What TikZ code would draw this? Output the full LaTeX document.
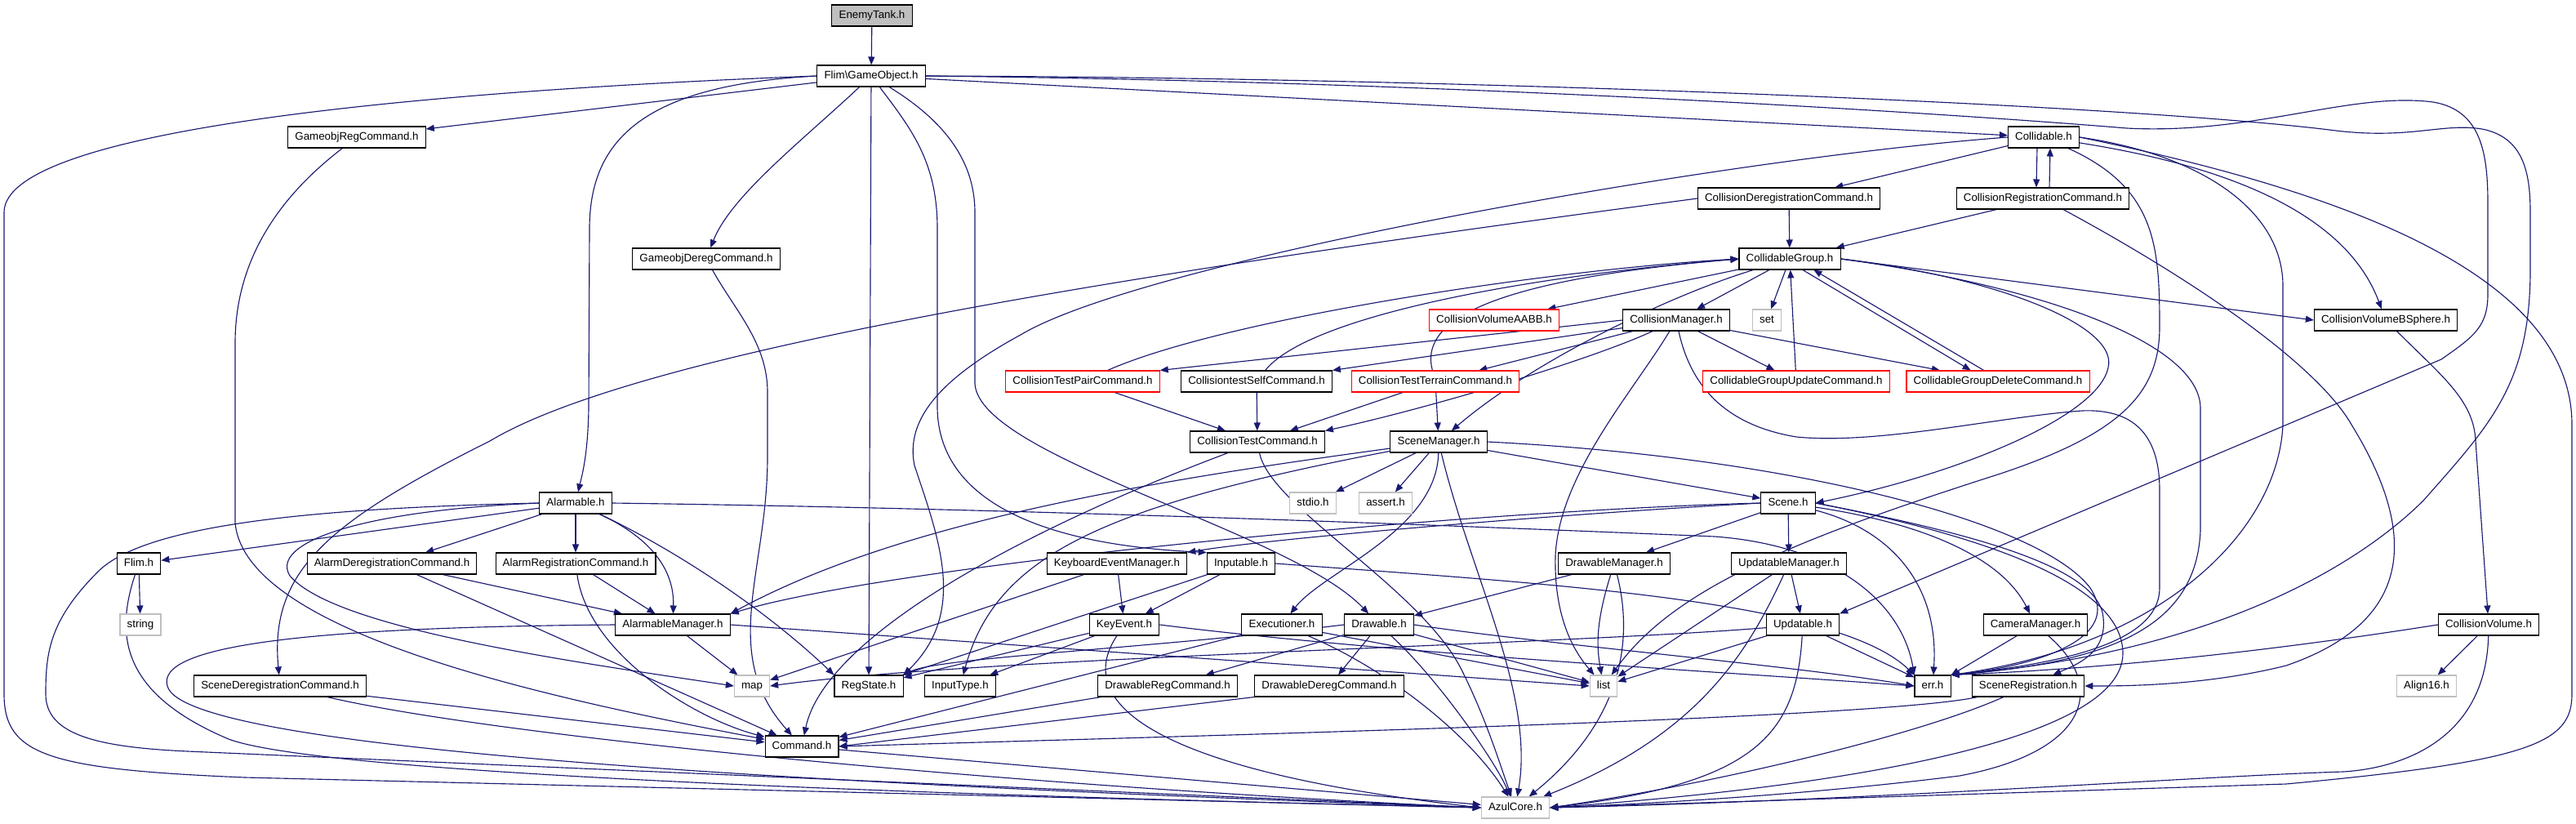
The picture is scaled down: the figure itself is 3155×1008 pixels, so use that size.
\documentclass[tikz,border=0pt]{standalone}
\usepackage{fontspec}
\setmainfont{Liberation Sans}
\usetikzlibrary{arrows.meta,backgrounds}
\definecolor{edgeblue}{RGB}{25,25,112}
\definecolor{sysgray}{RGB}{191,191,191}
\begin{document}
\begin{tikzpicture}[x=0.75pt, y=-0.75pt,
  every node/.style={font=\fontsize{10}{12}\selectfont},
  hdr/.style={draw=black, line width=0.8pt, fill=white, minimum height=19.5pt,
    inner xsep=6.5pt, inner ysep=0pt, text height=7.3pt, text depth=2pt},
  sys/.style={hdr, draw=sysgray},
  redhdr/.style={hdr, draw=red},
  edge/.style={draw=edgeblue, line width=0.85pt, -{Triangle[length=7.5pt, width=6pt]}}]
  \useasboundingbox (0,0) rectangle (3155,1008);

  \node[hdr, fill=sysgray] (enemy) at (1068,19) {EnemyTank.h};
  \node[hdr] (gameobj) at (1067,93) {Flim\textbackslash GameObject.h};
  \node[hdr] (goregcmd) at (437,168) {GameobjRegCommand.h};
  \node[hdr] (collidable) at (2503,168) {Collidable.h};
  \node[hdr] (coldereg) at (2191,243) {CollisionDeregistrationCommand.h};
  \node[hdr] (colreg) at (2502,243) {CollisionRegistrationCommand.h};
  \node[hdr] (godereg) at (865,317) {GameobjDeregCommand.h};
  \node[hdr] (cgroup) at (2192,317) {CollidableGroup.h};
  \node[redhdr] (aabb) at (1830,392) {CollisionVolumeAABB.h};
  \node[hdr] (colmgr) at (2053,392) {CollisionManager.h};
  \node[sys] (setinc) at (2164,392) {set};
  \node[hdr] (bsphere) at (2922,392) {CollisionVolumeBSphere.h};
  \node[redhdr] (testpair) at (1326,467) {CollisionTestPairCommand.h};
  \node[hdr] (testself) at (1539,467) {CollisiontestSelfCommand.h};
  \node[redhdr] (testterrain) at (1758,467) {CollisionTestTerrainCommand.h};
  \node[redhdr] (cgupdate) at (2200,467) {CollidableGroupUpdateCommand.h};
  \node[redhdr] (cgdelete) at (2447,467) {CollidableGroupDeleteCommand.h};
  \node[hdr] (testcmd) at (1540,541) {CollisionTestCommand.h};
  \node[hdr] (scenemgr) at (1762,541) {SceneManager.h};
  \node[sys] (stdioinc) at (1608,616) {stdio.h};
  \node[sys] (assertinc) at (1697,616) {assert.h};
  \node[hdr] (scene) at (2190,616) {Scene.h};
  \node[hdr] (alarmable) at (705,616) {Alarmable.h};
  \node[hdr] (flim) at (170,690) {Flim.h};
  \node[hdr] (alarmdereg) at (480,690) {AlarmDeregistrationCommand.h};
  \node[hdr] (alarmreg) at (705,690) {AlarmRegistrationCommand.h};
  \node[hdr] (keymgr) at (1368,690) {KeyboardEventManager.h};
  \node[hdr] (inputable) at (1520,690) {Inputable.h};
  \node[hdr] (drawmgr) at (1977,690) {DrawableManager.h};
  \node[hdr] (updmgr) at (2191,690) {UpdatableManager.h};
  \node[sys] (stringinc) at (172,765) {string};
  \node[hdr] (alarmmgr) at (824,765) {AlarmableManager.h};
  \node[hdr] (keyevent) at (1377,765) {KeyEvent.h};
  \node[hdr] (executioner) at (1570,765) {Executioner.h};
  \node[hdr] (drawable) at (1689,765) {Drawable.h};
  \node[hdr] (updatable) at (2208,765) {Updatable.h};
  \node[hdr] (cammgr) at (2493,765) {CameraManager.h};
  \node[hdr] (colvol) at (3048,765) {CollisionVolume.h};
  \node[hdr] (scenedereg) at (343,840) {SceneDeregistrationCommand.h};
  \node[sys] (mapinc) at (921,840) {map};
  \node[hdr] (regstate) at (1064,840) {RegState.h};
  \node[hdr] (inputtype) at (1176,840) {InputType.h};
  \node[hdr] (drawreg) at (1430,840) {DrawableRegCommand.h};
  \node[hdr] (drawdereg) at (1628,840) {DrawableDeregCommand.h};
  \node[sys] (listinc) at (1964,840) {list};
  \node[hdr] (errh) at (2367,840) {err.h};
  \node[hdr] (scenereg) at (2484,840) {SceneRegistration.h};
  \node[sys] (align) at (2972,840) {Align16.h};
  \node[hdr] (command) at (982,914) {Command.h};
  \node[sys] (azul) at (1856,989) {AzulCore.h};

  \begin{scope}[on background layer]
  \draw[edge] (enemy) -- (gameobj);
  \draw[edge] (gameobj.west) .. controls (500,112) and (5,160) .. (5,260) -- (5,850) .. controls (5,925) and (60,942) .. (300,952) -- (azul.west);
  \draw[edge] (gameobj) -- (goregcmd);
  \draw[edge] (gameobj.west) .. controls (790,104) and (722,170) .. (722,280) -- (721,500) .. controls (720,560) and (712,585) .. (alarmable);
  \draw[edge] (gameobj) .. controls (985,170) and (895,240) .. (godereg);
  \draw[edge] (gameobj) -- (regstate);
  \draw[edge] (gameobj) .. controls (1118,160) and (1148,200) .. (1148,280) -- (1148,500) .. controls (1150,620) and (1290,668) .. (inputable.north west);
  \draw[edge] (gameobj) .. controls (1160,150) and (1194,200) .. (1194,260) -- (1194,470) .. controls (1200,560) and (1580,650) .. (drawable);
  \draw[edge] (gameobj) -- (collidable);
  \draw[edge] (gameobj.east) .. controls (1800,100) and (2400,140) .. (2605,157) .. controls (2760,165) and (2880,112) .. (2980,125) .. controls (3040,135) and (3047,190) .. (3047,250) -- (3047,360) .. controls (3047,400) and (3030,412) .. (2990,440) -- (updatable.north east);
  \draw[edge] (gameobj.east) .. controls (1800,95) and (2600,128) .. (2853,159) .. controls (2950,172) and (2990,150) .. (3040,158) .. controls (3090,168) and (3099,210) .. (3099,260) -- (3099,330) .. controls (3099,470) and (3050,520) .. (2968,613) .. controls (2880,700) and (2700,800) .. (errh.north east);

  \draw[edge] (goregcmd) .. controls (330,250) and (288,330) .. (288,420) -- (288,640) .. controls (300,780) and (700,860) .. (command);
  \draw[edge] (godereg) .. controls (900,380) and (940,420) .. (940,480) -- (940,560) .. controls (940,700) and (880,800) .. (command);

  \draw[edge] (collidable) -- (coldereg);
  \draw[edge] ([xshift=-6pt]collidable.south) -- ([xshift=-6pt]colreg.north);
  \draw[edge] ([xshift=6pt]colreg.north) -- ([xshift=6pt]collidable.south);
  \draw[edge] (collidable.west) .. controls (2100,195) and (1400,320) .. (1250,410) .. controls (1140,470) and (1110,520) .. (1120,570) .. controls (1150,660) and (1185,750) .. (regstate.north east);
  \draw[edge] (collidable) .. controls (2770,210) and (2880,280) .. (bsphere);
  \draw[edge] (collidable.east) .. controls (2850,230) and (3150,330) .. (3150,520) -- (3150,850) .. controls (3150,910) and (3100,932) .. (2800,960) -- (azul.east);
  \draw[edge] (collidable) .. controls (2640,230) and (2645,300) .. (2645,400) .. controls (2645,480) and (2600,530) .. (2450,580) .. controls (2200,660) and (2050,720) .. (listinc);
  \draw[edge] (collidable.east) .. controls (2700,190) and (2796,260) .. (2796,350) -- (2796,520) .. controls (2790,650) and (2650,790) .. (errh.north east);

  \draw[edge] (coldereg) -- (cgroup);
  \draw[edge] (coldereg.west) .. controls (1500,320) and (800,420) .. (600,540) .. controls (400,640) and (330,700) .. (scenedereg);
  \draw[edge] (colreg) -- (cgroup);
  \draw[edge] (colreg) .. controls (2700,350) and (2840,450) .. (2880,520) .. controls (2960,650) and (2960,760) .. (2800,815) .. controls (2700,840) and (2600,840) .. (scenereg.east);

  \draw[edge] (cgroup) -- (aabb);
  \draw[edge] (cgroup) -- (colmgr);
  \draw[edge] (cgroup) -- (setinc);
  \draw[edge] (cgroup.east) -- (bsphere.west);
  \draw[edge] ([xshift=12pt]cgroup.south) -- ([xshift=-25pt]cgdelete.north);
  \draw[edge] ([xshift=-13pt]cgdelete.north) -- ([xshift=22pt]cgroup.south);
  \draw[edge] (cgroup.east) .. controls (2450,340) and (2595,400) .. (2582,450) .. controls (2570,510) and (2400,580) .. (scene.east);
  \draw[edge] (cgroup.east) .. controls (2500,350) and (2695,420) .. (2695,500) -- (2695,650) .. controls (2690,760) and (2600,810) .. (errh.north east);
  \draw[edge] (cgroup) .. controls (2050,360) and (1880,440) .. (scenemgr);

  \draw[edge] (colmgr.west) -- (testpair.north east);
  \draw[edge] (colmgr) -- (testself.north east);
  \draw[edge] (colmgr) -- (testterrain);
  \draw[edge] (colmgr) -- (cgupdate);
  \draw[edge] (colmgr) -- (cgdelete);
  \draw[edge] (colmgr) .. controls (1950,440) and (1750,500) .. (testcmd.north east);
  \draw[edge] (colmgr) .. controls (2000,480) and (1910,580) .. (1905,680) .. controls (1903,760) and (1930,800) .. (listinc);
  \draw[edge] (colmgr) .. controls (2070,470) and (2110,520) .. (2200,535) .. controls (2300,545) and (2450,510) .. (2550,503) .. controls (2620,500) and (2645,540) .. (2645,600) -- (2645,720) .. controls (2645,780) and (2550,810) .. (errh.north east);

  \draw[edge] (bsphere) .. controls (2990,460) and (3030,490) .. (3032,540) -- (colvol);
  \draw[edge] (colvol) -- (align);
  \draw[edge] (colvol.west) .. controls (2700,810) and (2500,822) .. (errh.north east);
  \draw[edge] (colvol) .. controls (3045,900) and (2950,940) .. (2870,945) .. controls (2700,950) and (2300,980) .. (azul.east);

  \draw[edge] (testpair) .. controls (1500,390) and (1900,330) .. (cgroup.west);
  \draw[edge] (testpair) -- (testcmd);
  \draw[edge] (testself) .. controls (1600,390) and (1850,340) .. (cgroup.west);
  \draw[edge] (testself) -- (testcmd);
  \draw[edge] (testterrain) .. controls (1740,400) and (1800,345) .. (cgroup.west);
  \draw[edge] (testterrain) -- (testcmd);
  \draw[edge] (testterrain) -- (scenemgr);
  \draw[edge] (cgupdate) -- (cgroup);

  \draw[edge] (testcmd) .. controls (1250,650) and (1010,780) .. (command);
  \draw[edge] (testcmd) .. controls (1555,620) and (1740,720) .. (1790,820) .. controls (1820,880) and (1835,930) .. (azul);

  \draw[edge] (scenemgr) .. controls (1400,590) and (1100,640) .. (alarmmgr.north east);
  \draw[edge] (scenemgr) .. controls (1350,620) and (1220,680) .. (inputtype);
  \draw[edge] (scenemgr) -- (stdioinc);
  \draw[edge] (scenemgr) -- (assertinc);
  \draw[edge] (scenemgr) .. controls (1760,650) and (1620,700) .. (executioner);
  \draw[edge] (scenemgr) .. controls (1800,700) and (1880,850) .. (azul);
  \draw[edge] (scenemgr) -- (scene);
  \draw[edge] (scenemgr.east) .. controls (2200,560) and (2500,640) .. (2560,720) .. controls (2600,780) and (2500,815) .. (errh.north east);

  \draw[edge] (scene) -- (updmgr);
  \draw[edge] (scene) -- (drawmgr);
  \draw[edge] (scene) .. controls (2350,640) and (2450,680) .. (cammgr);
  \draw[edge] (scene) .. controls (2320,650) and (2375,720) .. (errh);
  \draw[edge] (scene.east) .. controls (2400,650) and (2560,690) .. (2575,750) .. controls (2585,800) and (2540,815) .. (scenereg);
  \draw[edge] (scene.east) .. controls (2450,660) and (2600,720) .. (2600,800) .. controls (2600,900) and (2300,960) .. (azul.east);
  \draw[edge] (scene.west) .. controls (1900,630) and (1550,660) .. (keymgr.north east);
  \draw[edge] (scene.west) .. controls (1800,625) and (1100,690) .. (alarmmgr.north east);

  \draw[edge] (keymgr) -- (keyevent);
  \draw[edge] (keymgr) -- (mapinc);
  \draw[edge] (inputable) -- (keyevent);
  \draw[edge] (inputable) -- (regstate);
  \draw[edge] (inputable.east) .. controls (1900,715) and (2250,735) .. (errh.north west);

  \draw[edge] (drawmgr) -- (drawable);
  \draw[edge] (drawmgr) .. controls (1955,760) and (1955,790) .. (listinc);
  \draw[edge] (drawmgr) .. controls (2000,780) and (1990,880) .. (azul);
  \draw[edge] (updmgr) -- (updatable);
  \draw[edge] (updmgr) -- (listinc);
  \draw[edge] (updmgr) .. controls (2140,800) and (2080,900) .. (azul);

  \draw[edge] (updatable) -- (errh);
  \draw[edge] (updatable) -- (listinc);
  \draw[edge] (updatable) .. controls (2200,900) and (2150,960) .. (azul.east);
  \draw[edge] (updatable) .. controls (1900,790) and (1200,805) .. (mapinc.east);
  \draw[edge] (cammgr) -- (errh);
  \draw[edge] (cammgr) .. controls (2580,840) and (2560,920) .. (2400,950) .. controls (2200,975) and (2000,985) .. (azul.east);
  \draw[edge] (scenereg) .. controls (2300,880) and (1500,900) .. (command.east);
  \draw[edge] (scenereg) .. controls (2350,900) and (2100,960) .. (azul.east);

  \draw[edge] (alarmable) -- (flim);
  \draw[edge] (alarmable) -- (alarmdereg);
  \draw[edge] (alarmable) -- (alarmreg);
  \draw[edge] (alarmable) .. controls (800,660) and (826,700) .. (alarmmgr);
  \draw[edge] (alarmable.west) .. controls (440,625) and (330,665) .. (355,705) .. controls (410,770) and (700,810) .. (mapinc.west);
  \draw[edge] (alarmable) .. controls (800,660) and (920,730) .. (regstate.north west);
  \draw[edge] (alarmable.west) .. controls (400,622) and (180,640) .. (120,700) .. controls (60,760) and (56,800) .. (56,850) .. controls (56,900) and (120,915) .. (230,920) -- (azul.west);
  \draw[edge] (alarmable.east) .. controls (1200,622) and (1700,640) .. (2100,657) .. controls (2250,668) and (2330,740) .. (errh.north west);

  \draw[edge] (flim) -- (stringinc);
  \draw[edge] (flim) .. controls (140,780) and (150,850) .. (280,905) .. controls (400,950) and (1200,975) .. (azul.west);
  \draw[edge] (alarmdereg) -- (alarmmgr);
  \draw[edge] (alarmdereg) -- (command);
  \draw[edge] (alarmreg) -- (alarmmgr);
  \draw[edge] (alarmreg) .. controls (720,800) and (850,880) .. (command);
  \draw[edge] (alarmmgr) -- (mapinc);
  \draw[edge] (alarmmgr.east) -- (listinc.west);
  \draw[edge] (alarmmgr.west) .. controls (380,768) and (190,790) .. (205,840) .. controls (225,920) and (1000,960) .. (azul.west);
  \draw[edge] (scenedereg) -- (command);
  \draw[edge] (scenedereg) .. controls (600,900) and (1200,960) .. (azul.west);
  \draw[edge] (command) -- (azul);

  \draw[edge] (keyevent) -- (inputtype);
  \draw[edge] (keyevent) -- (regstate);
  \draw[edge] (keyevent) .. controls (1320,850) and (1380,940) .. (azul.west);
  \draw[edge] (keyevent.east) .. controls (1700,800) and (2100,822) .. (errh.west);
  \draw[edge] (executioner) -- (command);
  \draw[edge] (executioner) -- (listinc);
  \draw[edge] (executioner) .. controls (1700,820) and (1800,900) .. (azul);
  \draw[edge] (drawable) -- (drawreg);
  \draw[edge] (drawable) -- (drawdereg);
  \draw[edge] (drawable) -- (listinc);
  \draw[edge] (drawable) .. controls (1760,830) and (1830,930) .. (azul);
  \draw[edge] (drawable.east) .. controls (1900,790) and (2200,815) .. (errh.west);
  \draw[edge] (drawable.west) .. controls (1400,795) and (1150,805) .. (regstate.north east);
  \draw[edge] (drawreg) -- (command);
  \draw[edge] (drawdereg.south west) -- (command.east);
  \end{scope}
\end{tikzpicture}
\end{document}
